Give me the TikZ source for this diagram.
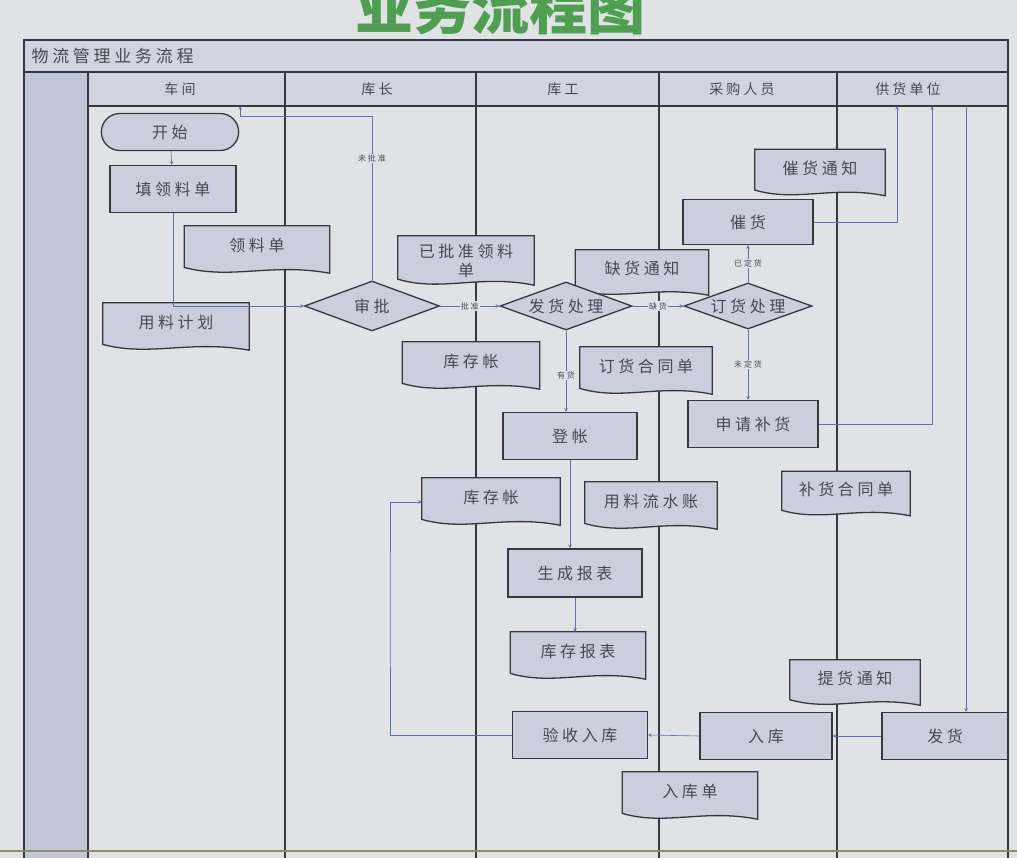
\documentclass[tikz,border=0pt]{standalone}
\usepackage{fontspec}
\setmainfont{Noto Sans CJK SC}[LetterSpace=22]
\newfontfamily\plainfont{Noto Sans CJK SC}
\usepackage{tikz}
\usetikzlibrary{shapes.geometric, shapes.misc, arrows, positioning, calc}

\definecolor{paper}{RGB}{224,226,230}
\definecolor{headfill}{RGB}{209,212,224}
\definecolor{stripfill}{RGB}{194,199,219}
\definecolor{nodefill}{RGB}{203,207,221}
\definecolor{linec}{RGB}{55,55,62}
\definecolor{flowc}{RGB}{92,112,175}
\definecolor{textc}{RGB}{72,72,82}
\definecolor{titlegreen}{RGB}{78,160,80}
\definecolor{barc}{RGB}{150,140,95}

\pgfdeclarelayer{lanes}
\pgfdeclarelayer{docs}
\pgfsetlayers{lanes,docs,main}

\begin{document}
\begin{tikzpicture}[
    x=1pt, y=-1pt,
    every node/.style={text=textc, font=\fontsize{16}{19}\selectfont},
    proc/.style={rectangle, draw=linec, line width=1.3pt, fill=nodefill, minimum width=132pt, minimum height=47pt, inner sep=2pt},
    doc/.style={rectangle, minimum width=135pt, minimum height=48pt, align=center, text depth=11pt, inner sep=2pt},
    decide/.style={diamond, aspect=2.75, draw=linec, line width=1.3pt, fill=nodefill, minimum width=132pt, minimum height=48pt, inner sep=0pt},
    term/.style={rounded rectangle, draw=linec, line width=1.3pt, fill=nodefill, minimum width=144pt, minimum height=37pt},
    lanehead/.style={font=\fontsize{14}{16}\selectfont},
    cond/.style={font=\fontsize{8}{9}\selectfont, fill=paper, inner sep=1pt},
    arrow/.style={->, >=stealth, draw=flowc, semithick},
    lane/.style={draw=linec, line width=1.3pt},
    docline/.style={draw=linec, fill=nodefill, line width=1.3pt}
]
    \useasboundingbox (0,0) rectangle (1017,858);

    % Pool and lanes
    \begin{pgfonlayer}{lanes}
    \fill[paper] (0,0) rectangle (1017,858);
    \fill[headfill] (24,40) rectangle (1008,106);
    \fill[stripfill] (24,72) rectangle (88,858);
    \draw[lane] (24,858) -- (24,40) -- (1008,40) -- (1008,858);
    \draw[lane] (24,72) -- (1008,72);
    \draw[lane] (88,106) -- (1008,106);
    \foreach \lx in {88,285,476,659,837}
        \draw[lane] (\lx,72) -- (\lx,858);
    \draw[barc, line width=1.5pt] (0,851) -- (1017,851);
    \end{pgfonlayer}

    % Titles
    \node[anchor=base, text=titlegreen, font=\plainfont\bfseries\fontsize{58}{58}\selectfont] (slidetitle) at (500,30) {业务流程图};
    \node[anchor=west, font=\fontsize{17}{20}\selectfont] (pooltitle) at (28,56) {物流管理业务流程};
    \node[lanehead] (hcj) at (180,89) {车间};
    \node[lanehead] (hkz) at (377,89) {库长};
    \node[lanehead] (hkg) at (563,89) {库工};
    \node[lanehead] (hcg) at (742,89) {采购人员};
    \node[lanehead] (hgy) at (908,89) {供货单位};

    % Nodes
    \node[term] (kaishi) at (170,132) {开始};
    \node[proc, minimum width=126pt] (tianlld) at (173,189) {填领料单};
    \node[doc, minimum width=145pt] (lld) at (257,250) {领料单};
    \node[doc, minimum width=146pt] (ylplan) at (176,327) {用料计划};
    \node[decide, minimum width=135pt, minimum height=50pt] (shenpi) at (372,306) {审批};
    \node[doc, minimum width=136pt, minimum height=50pt, text depth=2pt] (ypzlld) at (466,261) {已批准领料\\单};
    \node[decide] (fhcl) at (566,306) {发货处理};
    \node[doc, minimum width=133pt, minimum height=46pt] (qhtz) at (642,273) {缺货通知};
    \node[decide, minimum width=128pt, minimum height=46pt] (dhcl) at (748,306) {订货处理};
    \node[proc, minimum width=130pt, minimum height=45pt] (cuihuo) at (748,222) {催货};
    \node[doc, minimum width=130pt, minimum height=47pt] (chtz) at (820,173) {催货通知};
    \node[doc, minimum width=137pt] (kcz1) at (471,366) {库存帐};
    \node[doc, minimum width=132pt] (dhht) at (646,371) {订货合同单};
    \node[proc, minimum width=134pt] (dengzhang) at (570,436) {登帐};
    \node[proc, minimum width=130pt] (sqbh) at (753,424) {申请补货};
    \node[doc, minimum width=138pt] (kcz2) at (491,502) {库存帐};
    \node[doc, minimum width=132pt] (yllsz) at (651,506) {用料流水账};
    \node[doc, minimum width=128pt, minimum height=45pt] (bhht) at (846,494) {补货合同单};
    \node[proc, minimum width=134pt, minimum height=48pt] (scbb) at (575,573) {生成报表};
    \node[doc] (kcbb) at (578,656) {库存报表};
    \node[doc, minimum width=130pt, minimum height=46pt] (thtz) at (855,683) {提货通知};
    \node[proc, minimum width=135pt] (ysrk) at (580,735) {验收入库};
    \node[proc] (ruku) at (766,736) {入库};
    \node[proc, minimum width=126pt] (fahuo) at (945,736) {发货};
    \node[doc] (rkd) at (690,796) {入库单};

    % Document outlines
    \begin{pgfonlayer}{docs}
    \foreach \d in {lld, ylplan, ypzlld, qhtz, chtz, kcz1, dhht, kcz2, yllsz, bhht, kcbb, thtz, rkd}
        \draw[docline] let \p1=(\d.north west), \p2=(\d.south east), \n1={\y1-\y2} in
            (\x1,\y1) -- (\x2,\y1) -- (\x2,{\y2+0.02*\n1})
            .. controls ({\x1+0.6*(\x2-\x1)},{\y2+0.24*\n1}) and ({\x1+0.32*(\x2-\x1)},{\y2-0.12*\n1})
            .. (\x1,{\y2+0.14*\n1}) -- cycle;
    \end{pgfonlayer}

    % Free ends at the lane headers
    \coordinate (cjback) at (240,106);
    \coordinate (cjback1) at (240,116);
    \coordinate (gy1) at (897,106);
    \coordinate (gy2) at (932,106);
    \coordinate (gy3) at (966,106);
    \coordinate (loopx) at (390,600);

    % Arrows
    \draw[arrow] (kaishi) -- (tianlld);
    \draw[arrow] (tianlld.south) |- (shenpi.west);
    \draw[arrow] (shenpi.north) |- node[cond, pos=0.37] {未批准} (cjback1) -- (cjback);
    \draw[arrow] (shenpi.east) -- node[cond] {批准} (fhcl.west);
    \draw[arrow] (fhcl.east) -- node[cond] {缺货} (dhcl.west);
    \draw[arrow] (fhcl.south) -- node[cond, pos=0.55] {有货} (fhcl.south |- dengzhang.north);
    \draw[arrow] (dhcl.north) -- node[cond] {已定货} (dhcl.north |- cuihuo.south);
    \draw[arrow] (dhcl.south) -- node[cond] {未定货} (dhcl.south |- sqbh.north);
    \draw[arrow] (cuihuo.east) -| (gy1);
    \draw[arrow] (sqbh.east) -| (gy2);
    \draw[arrow] (gy3) -- (gy3 |- fahuo.north);
    \draw[arrow] (fahuo.west) -- (ruku.east);
    \draw[arrow] (ruku.west) -- (ysrk.east);
    \draw[arrow] (ysrk.west) -| (loopx) |- (kcz2.west);
    \draw[arrow] (dengzhang.south) -- (dengzhang.south |- scbb.north);
    \draw[arrow] (scbb.south) -- (scbb.south |- kcbb.north);
\end{tikzpicture}
\end{document}
